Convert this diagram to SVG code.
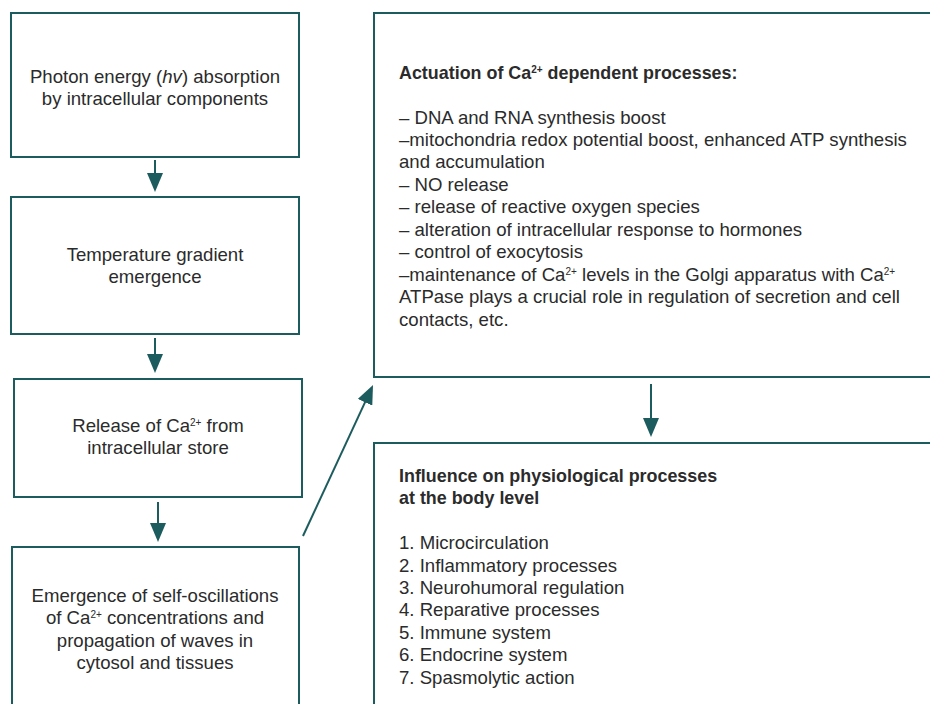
<svg xmlns="http://www.w3.org/2000/svg" width="930" height="704" viewBox="0 0 930 704">
<style>
.box{fill:#fff;stroke:#1d5c5e;stroke-width:2}
.t{font-family:"Liberation Sans",Arial,sans-serif;font-size:18.6px;fill:#2b2b2b}
.c{text-anchor:middle}
.b{font-weight:bold;font-size:17.9px}
.sup{font-size:10px}
.con{stroke:#1d5c5e;stroke-width:2;fill:none;marker-end:url(#ah)}
</style>
<defs>
<marker id="ah" markerUnits="userSpaceOnUse" viewBox="0 0 19 16" refX="9" refY="8" markerWidth="19" markerHeight="16" orient="auto">
<path d="M0,0 L19,8 L0,16 z" fill="#1d5c5e"/>
</marker>
</defs>
<rect width="930" height="704" fill="#fff"/>
<g id="connectors">
<line class="con" x1="155" y1="160" x2="155" y2="182"/>
<line class="con" x1="155" y1="338" x2="155" y2="363"/>
<line class="con" x1="158" y1="502" x2="158" y2="532"/>
<line class="con" x1="303" y1="536" x2="368.8" y2="394.1"/>
<line class="con" x1="651" y1="384" x2="651" y2="427"/>
</g>
<g id="node1">
<rect class="box" x="11" y="13" width="288" height="144"/>
<text class="t c" x="155" y="83">Photon energy (<tspan font-style="italic">hv</tspan>) absorption</text>
<text class="t c" x="155" y="105">by intracellular components</text>
</g>
<g id="node2">
<rect class="box" x="11" y="197" width="288" height="137"/>
<text class="t c" x="155" y="261">Temperature gradient</text>
<text class="t c" x="155" y="283">emergence</text>
</g>
<g id="node3">
<rect class="box" x="14" y="379" width="288" height="118"/>
<text class="t c" x="158" y="432">Release of Ca<tspan class="sup" dy="-6">2+</tspan><tspan dy="6"> from</tspan></text>
<text class="t c" x="158" y="454">intracellular store</text>
</g>
<g id="node4">
<rect class="box" x="12" y="547" width="287" height="170"/>
<text class="t c" x="155" y="602">Emergence of self-oscillations</text>
<text class="t c" x="155" y="624">of Ca<tspan class="sup" dy="-6">2+</tspan><tspan dy="6"> concentrations and</tspan></text>
<text class="t c" x="155" y="647">propagation of waves in</text>
<text class="t c" x="155" y="669">cytosol and tissues</text>
</g>
<g id="node5">
<rect class="box" x="374" y="13" width="570" height="364"/>
<text class="t b" x="399" y="79">Actuation of Ca<tspan class="sup" dy="-6">2+</tspan><tspan dy="6"> dependent processes:</tspan></text>
<text class="t" x="399" y="124">– DNA and RNA synthesis boost</text>
<text class="t" x="399" y="146">–mitochondria redox potential boost, enhanced ATP synthesis</text>
<text class="t" x="399" y="168">and accumulation</text>
<text class="t" x="399" y="191">– NO release</text>
<text class="t" x="399" y="213">– release of reactive oxygen species</text>
<text class="t" x="399" y="236">– alteration of intracellular response to hormones</text>
<text class="t" x="399" y="258">– control of exocytosis</text>
<text class="t" x="399" y="281">–maintenance of Ca<tspan class="sup" dy="-6">2+</tspan><tspan dy="6"> levels in the Golgi apparatus with Ca</tspan><tspan class="sup" dy="-6">2+</tspan></text>
<text class="t" x="399" y="303">ATPase plays a crucial role in regulation of secretion and cell</text>
<text class="t" x="399" y="326">contacts, etc.</text>
</g>
<g id="node6">
<rect class="box" x="374" y="443" width="570" height="280"/>
<text class="t b" x="399" y="482">Influence on physiological processes</text>
<text class="t b" x="399" y="504">at the body level</text>
<text class="t" x="399" y="549">1. Microcirculation</text>
<text class="t" x="399" y="572">2. Inflammatory processes</text>
<text class="t" x="399" y="594">3. Neurohumoral regulation</text>
<text class="t" x="399" y="616">4. Reparative processes</text>
<text class="t" x="399" y="639">5. Immune system</text>
<text class="t" x="399" y="661">6. Endocrine system</text>
<text class="t" x="399" y="684">7. Spasmolytic action</text>
</g>
</svg>
